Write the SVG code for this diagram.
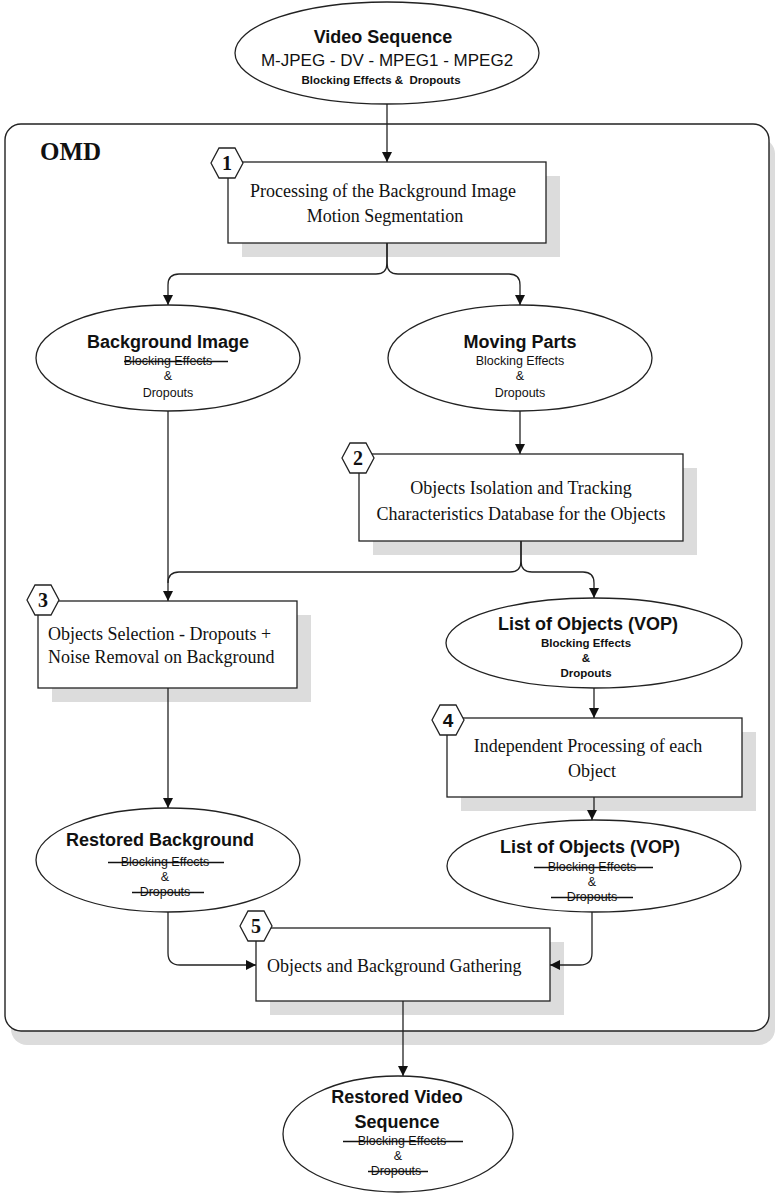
<svg xmlns="http://www.w3.org/2000/svg" width="775" height="1194" viewBox="0 0 775 1194">
<style>
.bg{fill:#ffffff}
.shadow{fill:#dcdcdc}
.box{fill:#ffffff;stroke:#222;stroke-width:1.3}
.ell{fill:#ffffff;stroke:#222;stroke-width:1.3}
.hex{fill:#ffffff;stroke:#222;stroke-width:1.3}
.num{font-family:"Liberation Serif","Times New Roman",serif;font-weight:bold;font-size:20px;fill:#111;text-anchor:middle}
.t{font-family:"Liberation Serif","Times New Roman",serif;font-size:18px;fill:#111}
.c{text-anchor:middle}
.title{font-family:"Liberation Sans",Arial,sans-serif;font-weight:bold;font-size:18px;fill:#111;text-anchor:middle}
.sub{font-family:"Liberation Sans",Arial,sans-serif;font-size:12.5px;fill:#111;text-anchor:middle}
.subb{font-family:"Liberation Sans",Arial,sans-serif;font-weight:bold;font-size:11.5px;fill:#111;text-anchor:middle}
.strike{stroke:#111;stroke-width:1.4}
.conn{fill:none;stroke:#222;stroke-width:1.3}
</style>
<defs>
<marker id="arr" viewBox="0 0 10 10" refX="10" refY="5" markerWidth="10" markerHeight="10" markerUnits="userSpaceOnUse" orient="auto">
<path d="M0,0 L10,5 L0,10 z" fill="#111"/>
</marker>
</defs>
<rect class="bg" x="0" y="0" width="775" height="1194"/>

<g id="container">
<rect class="shadow" x="11" y="138" width="764" height="907" rx="16"/>
<rect x="5" y="124" width="764" height="907" rx="16" fill="#ffffff" stroke="#222" stroke-width="1.4"/>
<text x="40" y="160" font-family="Liberation Serif,'Times New Roman',serif" font-weight="bold" font-size="25" fill="#111">OMD</text>
</g>

<g id="video-sequence">
<ellipse class="ell" cx="387" cy="53" rx="152" ry="51"/>
<text class="title" x="383" y="43">Video Sequence</text>
<text x="387" y="66" font-family="Liberation Sans,Arial,sans-serif" font-size="17" fill="#111" text-anchor="middle">M-JPEG - DV - MPEG1 - MPEG2</text>
<text class="subb" x="381" y="84" xml:space="preserve">Blocking Effects &amp;  Dropouts</text>
</g>

<g id="step1">
<rect class="shadow" x="242" y="176" width="318" height="81"/>
<rect class="box" x="228" y="162" width="318" height="81"/>
<text class="t c" x="383" y="197">Processing of the Background Image</text>
<text class="t c" x="385" y="222">Motion Segmentation</text>
<polygon class="hex" points="211,163 219,148 235,148 243,163 235,178 219,178"/>
<text class="num" x="227" y="170">1</text>
</g>

<g id="background-image">
<ellipse class="ell" cx="168" cy="358" rx="132" ry="53"/>
<text class="title" x="168" y="348">Background Image</text>
<text class="sub" x="168" y="365">Blocking Effects</text>
<line class="strike" x1="124" y1="361.5" x2="228" y2="361.5"/>
<text class="sub" x="168" y="380">&amp;</text>
<text class="sub" x="168" y="397">Dropouts</text>
</g>

<g id="moving-parts">
<ellipse class="ell" cx="520" cy="358" rx="132" ry="53"/>
<text class="title" x="520" y="348">Moving Parts</text>
<text class="sub" x="520" y="365">Blocking Effects</text>
<text class="sub" x="520" y="380">&amp;</text>
<text class="sub" x="520" y="397">Dropouts</text>
</g>

<g id="step2">
<rect class="shadow" x="373" y="468" width="324" height="87"/>
<rect class="box" x="359" y="454" width="324" height="87"/>
<text class="t c" x="521" y="494">Objects Isolation and Tracking</text>
<text class="t c" x="521" y="520">Characteristics Database for the Objects</text>
<polygon class="hex" points="342,458 350,443 366,443 374,458 366,473 350,473"/>
<text class="num" x="358" y="465">2</text>
</g>

<g id="step3">
<rect class="shadow" x="52" y="615" width="259" height="87"/>
<rect class="box" x="38" y="601" width="259" height="87"/>
<text class="t" x="48" y="640">Objects Selection - Dropouts +</text>
<text class="t" x="48" y="663">Noise Removal on Background</text>
<polygon class="hex" points="27,600 35,585 51,585 59,600 51,615 35,615"/>
<text class="num" x="43" y="607">3</text>
</g>

<g id="list-objects-1">
<ellipse class="ell" cx="594" cy="643" rx="148" ry="45"/>
<text class="title" x="588" y="630">List of Objects (VOP)</text>
<text class="subb" x="586" y="647">Blocking Effects</text>
<text class="subb" x="586" y="662">&amp;</text>
<text class="subb" x="586" y="677">Dropouts</text>
</g>

<g id="step4">
<rect class="shadow" x="461" y="732" width="295" height="79"/>
<rect class="box" x="447" y="718" width="295" height="79"/>
<text class="t c" x="588" y="752">Independent Processing of each</text>
<text class="t c" x="592" y="777">Object</text>
<polygon class="hex" points="432,720 440,705 456,705 464,720 456,735 440,735"/>
<text x="448" y="727" font-family="Liberation Sans,Arial,sans-serif" font-weight="bold" font-size="19" fill="#111" text-anchor="middle">4</text>
</g>

<g id="restored-background">
<ellipse class="ell" cx="168" cy="860" rx="132" ry="52"/>
<text class="title" x="160" y="846">Restored Background</text>
<text class="sub" x="165" y="866">Blocking Effects</text>
<line class="strike" x1="108" y1="862.5" x2="224" y2="862.5"/>
<text class="sub" x="165" y="881">&amp;</text>
<text class="sub" x="165" y="896">Dropouts</text>
<line class="strike" x1="132" y1="892.5" x2="204" y2="892.5"/>
</g>

<g id="list-objects-2">
<ellipse class="ell" cx="594" cy="866" rx="147" ry="46"/>
<text class="title" x="590" y="853">List of Objects (VOP)</text>
<text class="sub" x="592" y="871">Blocking Effects</text>
<line class="strike" x1="534" y1="867.5" x2="653" y2="867.5"/>
<text class="sub" x="592" y="886">&amp;</text>
<text class="sub" x="592" y="901">Dropouts</text>
<line class="strike" x1="551" y1="897.5" x2="633" y2="897.5"/>
</g>

<g id="step5">
<rect class="shadow" x="270" y="942" width="294" height="73"/>
<rect class="box" x="256" y="928" width="294" height="73"/>
<text class="t" x="267" y="972">Objects and Background Gathering</text>
<polygon class="hex" points="240,926 248,911 264,911 272,926 264,941 248,941"/>
<text class="num" x="256" y="933">5</text>
</g>

<g id="restored-video">
<ellipse class="ell" cx="398" cy="1134" rx="115" ry="58"/>
<text class="title" x="397" y="1103">Restored Video</text>
<text class="title" x="397" y="1128">Sequence</text>
<text class="sub" x="402" y="1145">Blocking Effects</text>
<line class="strike" x1="343" y1="1141.5" x2="463" y2="1141.5"/>
<text class="sub" x="398" y="1160">&amp;</text>
<text class="sub" x="396" y="1175">Dropouts</text>
<line class="strike" x1="368" y1="1171.5" x2="428" y2="1171.5"/>
</g>

<g id="connectors">
<path class="conn" d="M387,104 V162" marker-end="url(#arr)"/>
<path class="conn" d="M387,243 V263 Q387,274 376,274 H179 Q168,274 168,285 V305" marker-end="url(#arr)"/>
<path class="conn" d="M387,243 V263 Q387,274 398,274 H509 Q520,274 520,285 V305" marker-end="url(#arr)"/>
<path class="conn" d="M520,411 V454" marker-end="url(#arr)"/>
<path class="conn" d="M168,411 V601" marker-end="url(#arr)"/>
<path class="conn" d="M521,541 V561 Q521,572 510,572 H179 Q168,572 168,583"/>
<path class="conn" d="M521,541 V561 Q521,572 532,572 H583 Q594,572 594,583 V598" marker-end="url(#arr)"/>
<path class="conn" d="M594,688 V718" marker-end="url(#arr)"/>
<path class="conn" d="M168,688 V808" marker-end="url(#arr)"/>
<path class="conn" d="M594,797 V810 L592,812 V820" marker-end="url(#arr)"/>
<path class="conn" d="M168,912 V953 Q168,965 180,965 H256" marker-end="url(#arr)"/>
<path class="conn" d="M592,912 V953 Q592,965 580,965 H550" marker-end="url(#arr)"/>
<path class="conn" d="M403,1001 V1076" marker-end="url(#arr)"/>
</g>
</svg>
